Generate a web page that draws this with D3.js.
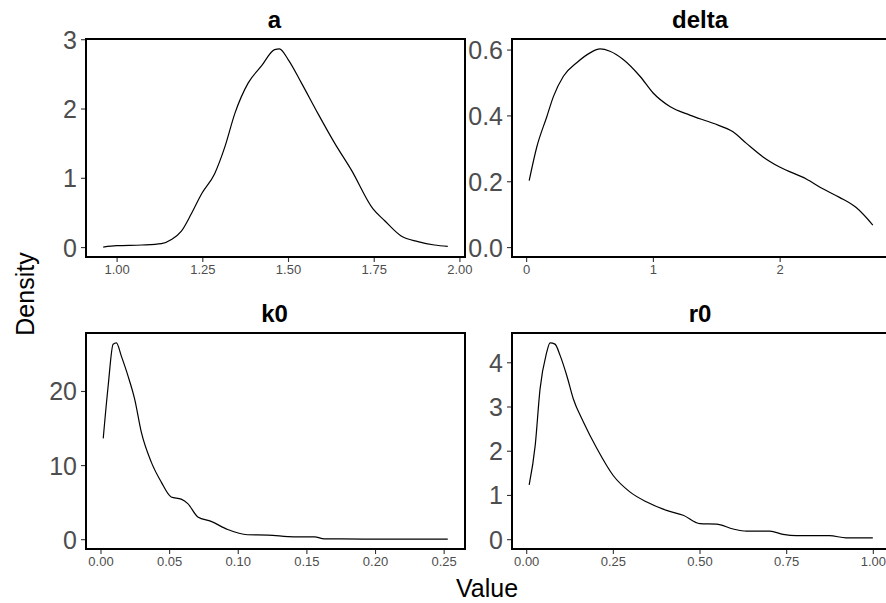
<!DOCTYPE html>
<html>
<head>
<meta charset="utf-8">
<script src="https://cdn.jsdelivr.net/npm/d3@7"></script>
<style>
  html, body { margin: 0; padding: 0; background: #fff; }
  svg { display: block; font-family: "Liberation Sans", Arial, sans-serif; }
</style>
</head>
<body>
<svg id="chart" width="886" height="603"></svg>
<script>
// ---------- data ----------
const panelNames = ["a", "delta", "k0", "r0"];

const aX = [0.961, 1.00, 1.073, 1.131, 1.160, 1.189, 1.218, 1.248, 1.286, 1.316, 1.345, 1.384, 1.422, 1.461, 1.475, 1.50, 1.539, 1.587, 1.636, 1.685, 1.748, 1.782, 1.830, 1.879, 1.927, 1.966];
const aY = [0.0, 0.02, 0.03, 0.05, 0.11, 0.23, 0.48, 0.77, 1.06, 1.45, 1.93, 2.37, 2.61, 2.85, 2.86, 2.71, 2.37, 1.93, 1.50, 1.11, 0.55, 0.38, 0.16, 0.08, 0.03, 0.01];

const deltaX = [0.024, 0.084, 0.163, 0.215, 0.294, 0.399, 0.504, 0.583, 0.661, 0.766, 0.898, 1.002, 1.134, 1.291, 1.475, 1.632, 1.738, 1.869, 2.0, 2.210, 2.341, 2.472, 2.604, 2.735];
const deltaY = [0.202, 0.304, 0.396, 0.457, 0.519, 0.560, 0.590, 0.602, 0.595, 0.570, 0.519, 0.468, 0.427, 0.401, 0.376, 0.350, 0.315, 0.274, 0.243, 0.207, 0.177, 0.151, 0.120, 0.067];

const k0X = [0.002, 0.0056, 0.0092, 0.0116, 0.0152, 0.0201, 0.0249, 0.0298, 0.037, 0.0443, 0.0515, 0.0588, 0.0636, 0.0709, 0.0806, 0.0927, 0.107, 0.122, 0.141, 0.156, 0.163, 0.192, 0.253];
const k0Y = [13.6, 20.7, 26.3, 26.5, 24.7, 22.0, 18.9, 14.4, 10.4, 7.7, 5.7, 5.4, 4.8, 3.0, 2.4, 1.3, 0.6, 0.55, 0.32, 0.32, 0.05, 0.02, 0.01];

const r0X = [0.0086, 0.026, 0.040, 0.058, 0.069, 0.083, 0.098, 0.117, 0.136, 0.165, 0.204, 0.251, 0.299, 0.348, 0.405, 0.453, 0.501, 0.549, 0.597, 0.635, 0.703, 0.741, 0.779, 0.875, 0.923, 1.0];
const r0Y = [1.23, 2.12, 3.40, 4.19, 4.44, 4.41, 4.15, 3.70, 3.17, 2.65, 2.05, 1.44, 1.07, 0.84, 0.65, 0.54, 0.35, 0.34, 0.23, 0.18, 0.18, 0.11, 0.08, 0.08, 0.03, 0.03];

const aXTicks = [1.00, 1.25, 1.50, 1.75, 2.00];
const aYTicks = [0, 1, 2, 3];
const deltaXTicks = [0, 1, 2];
const deltaYTicks = [0.0, 0.2, 0.4, 0.6];
const k0XTicks = [0.00, 0.05, 0.10, 0.15, 0.20, 0.25];
const k0YTicks = [0, 10, 20];
const r0XTicks = [0.00, 0.25, 0.50, 0.75, 1.00];
const r0YTicks = [0, 1, 2, 3, 4];

const xTitle = "Value";
const yTitle = "Density";

// ---------- layout ----------
const svg = d3.select("#chart");
const cols = [[86, 465], [512, 890]];
const rows = [[39, 257], [333, 549]];

const panels = [
  { name: panelNames[0], xs: aX, ys: aY, xt: aXTicks, yt: aYTicks, xf: d3.format(".2f"), yf: d3.format("d"), c: 0, r: 0 },
  { name: panelNames[1], xs: deltaX, ys: deltaY, xt: deltaXTicks, yt: deltaYTicks, xf: d3.format("d"), yf: d3.format(".1f"), c: 1, r: 0 },
  { name: panelNames[2], xs: k0X, ys: k0Y, xt: k0XTicks, yt: k0YTicks, xf: d3.format(".2f"), yf: d3.format("d"), c: 0, r: 1 },
  { name: panelNames[3], xs: r0X, ys: r0Y, xt: r0XTicks, yt: r0YTicks, xf: d3.format(".2f"), yf: d3.format("d"), c: 1, r: 1 }
];

function expand(lo, hi) {
  const d = (hi - lo) * 0.05;
  return [lo - d, hi + d];
}

panels.forEach(p => {
  const [x0, x1] = cols[p.c];
  const [y0, y1] = rows[p.r];
  const x = d3.scaleLinear().domain(expand(d3.min(p.xs), d3.max(p.xs))).range([x0, x1]);
  const y = d3.scaleLinear().domain(expand(0, d3.max(p.ys))).range([y1, y0]);
  const g = svg.append("g");

  // density line
  const pts = p.xs.map((v, i) => [v, p.ys[i]]);
  g.append("path")
    .datum(pts)
    .attr("fill", "none")
    .attr("stroke", "#000")
    .attr("stroke-width", 1.2)
    .attr("d", d3.line().x(d => x(d[0])).y(d => y(d[1])).curve(d3.curveMonotoneX));

  // x axis
  const xa = g.append("g")
    .attr("transform", `translate(0,${y1})`)
    .call(d3.axisBottom(x).tickValues(p.xt).tickFormat(p.xf).tickSize(5).tickPadding(3));
  xa.select(".domain").remove();
  xa.selectAll("line").attr("stroke", "#333").attr("stroke-width", 1.1);
  xa.selectAll("text").attr("fill", "#4D4D4D").style("font-size", "13px")
    .style("font-family", "'Liberation Sans', Arial, sans-serif");

  // y axis
  const ya = g.append("g")
    .attr("transform", `translate(${x0},0)`)
    .call(d3.axisLeft(y).tickValues(p.yt).tickFormat(p.yf).tickSize(5).tickPadding(4));
  ya.select(".domain").remove();
  ya.selectAll("line").attr("stroke", "#333").attr("stroke-width", 1.1);
  ya.selectAll("text").attr("fill", "#4D4D4D").style("font-size", "25px")
    .attr("dy", "0.36em")
    .style("font-family", "'Liberation Sans', Arial, sans-serif");

  // panel border
  g.append("rect")
    .attr("x", x0).attr("y", y0)
    .attr("width", x1 - x0).attr("height", y1 - y0)
    .attr("fill", "none").attr("stroke", "#000").attr("stroke-width", 2);

  // title
  g.append("text")
    .attr("x", (x0 + x1) / 2 - 1)
    .attr("y", y0 - 11)
    .attr("text-anchor", "middle")
    .style("font-size", "24px")
    .style("font-weight", "bold")
    .attr("fill", "#000")
    .text(p.name);
});

// axis titles
svg.append("text")
  .attr("x", 487).attr("y", 597)
  .attr("text-anchor", "middle")
  .style("font-size", "25px")
  .attr("fill", "#000")
  .text(xTitle);

svg.append("text")
  .attr("transform", "translate(34,294) rotate(-90)")
  .attr("text-anchor", "middle")
  .style("font-size", "25px")
  .attr("fill", "#000")
  .text(yTitle);
</script>
</body>
</html>
